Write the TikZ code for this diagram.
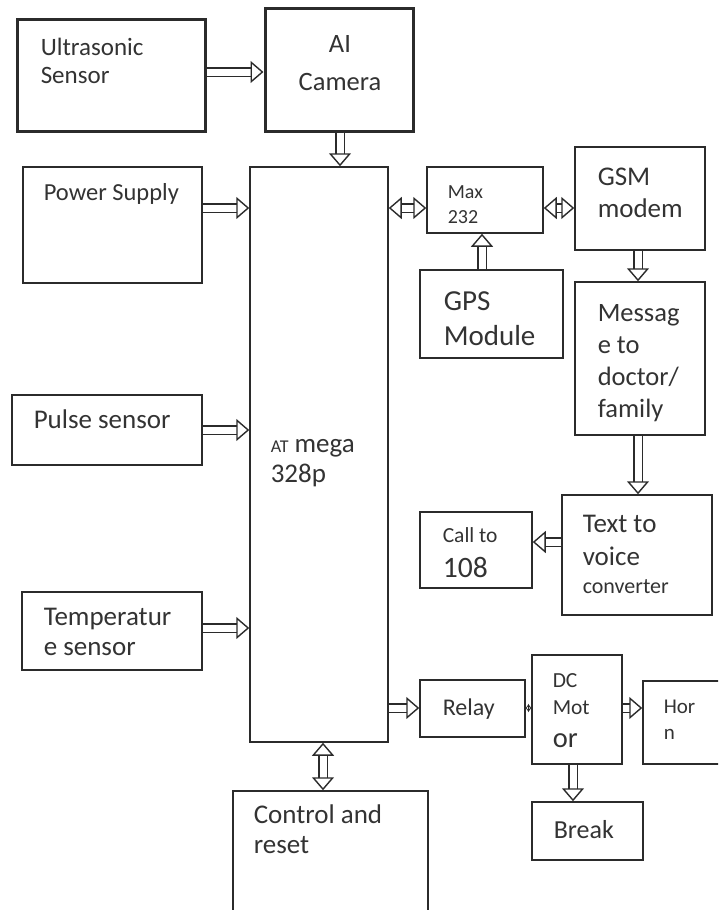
\documentclass[tikz,border=0pt]{standalone}
\usepackage{fontspec}
\setmainfont{Carlito}
\usetikzlibrary{arrows.meta, fit}
\definecolor{cink}{HTML}{333333}
\definecolor{cline}{HTML}{2B2B2B}
\tikzset{
  every picture/.style={line width=1.5pt},
  box/.style={draw=cline, inner sep=0pt, line width=#1},
  box/.default=1.5pt,
  lbl/.style={anchor=base west, align=left, inner sep=0pt, text=cink},
  link/.style={draw=cline, double, double distance=7pt, line width=1.4pt,
    >={Triangle[open, line width=1.4pt, length=13pt, width=22pt]}},
  tiny/.style={link, double distance=3pt,
    >={Triangle[open, line width=1pt, length=3pt, width=8pt]}},
}
\newcommand{\fs}[2]{\fontsize{#1}{#2}\selectfont}

\begin{document}
\begin{tikzpicture}[x=1pt, y=-1pt]
  \clip (0,0) rectangle (718,910);
  % blocks
  \foreach \n/\a/\b/\c/\d/\w in {us/17/19/205/131/3pt, cam/265/8/413/131/3pt,
      power/23/167/202/283/1.5pt, pulse/12/395/202/465/1.5pt, temp/22/592/202/670/1.5pt,
      mega/250/167/388/742/1.5pt, ctrl/233/791/428/930/1.5pt,
      max/427/167/543/233/1.5pt, gsm/575/147/705/250/1.5pt, gps/420/270/563/358/1.5pt,
      msg/575/282/705/435/1.5pt, ttv/562/495/712/615/1.5pt, call/420/512/532/588/1.5pt,
      relay/420/680/525/737/1.5pt, dc/532/655/622/764/1.5pt, horn/643/681/730/764/1.5pt,
      brk/532/802/643/860/1.5pt}
    \node[box=\w, fit={(\a,\b) (\c,\d)}] (\n) {};
  % labels (placed at the baseline of their last line)
  \node[lbl, font=\fs{25}{28}] (ust) at (40,83) {Ultrasonic\\Sensor};
  \node[lbl, anchor=base, align=center, font=\fs{26.5}{38}] (camt) at (340,90) {AI\\Camera};
  \node[lbl, font=\fs{24.5}{28}] (powert) at (43,200) {Power Supply};
  \node[lbl, font=\fs{27}{30}] (pulset) at (33,428) {Pulse sensor};
  \node[lbl, font=\fs{27}{30}] (tempt) at (43,655) {Temperatur\\e sensor};
  \node[lbl, font=\fs{27}{30}] (megat) at (270,482) {{\fs{18}{30}AT} mega\\328p};
  \node[lbl, font=\fs{27}{30}] (ctrlt) at (253,853) {Control and\\reset};
  \node[lbl, font=\fs{20}{25}] (maxt) at (447,223) {Max\\232};
  \node[lbl, font=\fs{27}{32}] (gsmt) at (597,217) {GSM\\modem};
  \node[lbl, font=\fs{29}{35}] (gpst) at (443,345) {GPS\\Module};
  \node[lbl, font=\fs{26.5}{32}] (msgt) at (597,417) {Messag\\e to\\doctor/\\family};
  \node[lbl, font=\fs{27}{33}] (ttvt) at (582,593) {Text to\\voice\\[-5pt]{\fs{22}{28}converter}};
  \node[lbl, font=\fs{21.5}{35}] (callt) at (442,577) {Call to\\{\fs{29.6}{35}108}};
  \node[lbl, font=\fs{24}{28}] (relayt) at (442,715) {Relay};
  \node[lbl, font=\fs{21.5}{27}] (dct) at (552,747) {DC\\Mot\\[6pt]{\fs{28.5}{33}or}};
  \node[lbl, font=\fs{21}{26}] (hornt) at (663,739) {Hor\\n};
  \node[lbl, font=\fs{26}{30}] (brkt) at (553,838) {Break};
  % links
  \foreach \s/\t/\y in {us/cam/72, power/mega/208, pulse/mega/430, temp/mega/628,
      mega/relay/708, dc/horn/708}
    \draw[link, ->] (\s.east |- 0,\y) -- (\t.west |- 0,\y);
  \foreach \s/\t/\y in {mega/max/208, max/gsm/208}
    \draw[link, <->] (\s.east |- 0,\y) -- (\t.west |- 0,\y);
  \draw[tiny, <->] (relay.east |- 0,708) -- (dc.west |- 0,708);
  \draw[link, ->] (ttv.west |- 0,542) -- (call.east |- 0,542);
  \foreach \s/\t/\x in {cam/mega/340, gsm/msg/638, msg/ttv/638, dc/brk/573}
    \draw[link, ->] (\s.south -| \x,0) -- (\t.north -| \x,0);
  \draw[link, ->] (gps.north -| 482,0) -- (max.south -| 482,0);
  \draw[link, <->] (mega.south -| 323,0) -- (ctrl.north -| 323,0);
\end{tikzpicture}
\end{document}
